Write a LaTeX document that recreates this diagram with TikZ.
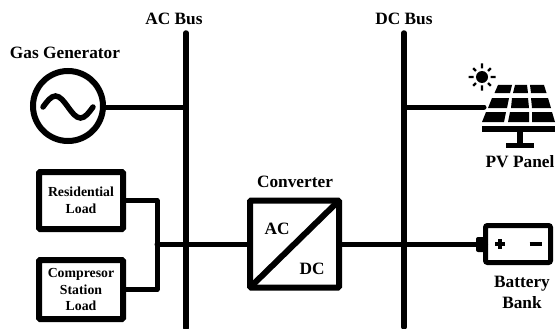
\documentclass[tikz,border=0pt]{standalone}
\usepackage{fontspec}
\setmainfont{Liberation Serif}
\tikzset{
    wire/.style={line width=5pt, line cap=round, line join=round},
    bus/.style={line width=5.5pt, line cap=round},
    loadbox/.style={draw, line width=6pt, rounded corners=1pt, outer sep=0pt, align=center, minimum width=84pt,
        font=\fontsize{13.8}{16.5}\selectfont\bfseries},
    title/.style={align=center, inner sep=0pt, font=\fontsize{17.3}{21}\selectfont\bfseries}
}
\begin{document}
\begin{tikzpicture}[x=1pt, y=-1pt]
    \useasboundingbox (0,0) rectangle (557,329);

    % Bus end points and tap points
    \coordinate (acTop) at (186,33);
    \coordinate (acBot) at (186,328);
    \coordinate (dcTop) at (404,33);
    \coordinate (dcBot) at (404,327);
    \coordinate (acTap) at (186,107);
    \coordinate (pvTap) at (484,107);
    \coordinate (dcTap) at (404,107);
    \coordinate (loadJoin) at (157,244);

    % Generator, loads, converter and battery
    \node[draw, circle, line width=6pt, outer sep=0pt, minimum size=70pt] (gen) at (68,106) {};
    \node[loadbox, minimum height=57pt] (res) at (81,200.5) {Residential\\Load};
    \node[loadbox, minimum height=59pt] (comp) at (81,289.5) {Compresor\\Station\\Load};
    \node[draw, line width=6pt, rounded corners=1pt, outer sep=0pt, minimum width=89pt, minimum height=87pt] (conv) at (294.5,244) {};
    \node[draw, line width=5pt, rounded corners=2pt, outer sep=0pt, minimum width=65pt, minimum height=37pt] (bat) at (518,244) {};

    % Buses
    \draw[bus] (acTop) -- (acBot);
    \draw[bus] (dcTop) -- (dcBot);

    % Connections
    \draw[wire] (gen) ++(35,1) -- (acTap);
    \draw[wire] (dcTap) -- (pvTap);
    \draw[wire] (res.east) -| (loadJoin);
    \draw[wire] (comp.east) -| (loadJoin);
    \draw[wire] (loadJoin) -- (conv.west);
    \draw[wire] (conv.east) -- (bat.west);

    % Sine wave in the generator
    \draw[line width=5.5pt, line cap=round] (43,107) sin (55.5,96) cos (68,107) sin (80.5,118) cos (93,107);

    % Diagonal of the converter
    \draw[line width=6pt] (conv.south west) -- (conv.north east);

    % Battery terminal and signs
    \fill[rounded corners=2pt] (476,237) rectangle (485,252);
    \draw[line width=3.5pt] (495,244) -- (505,244) (500,239) -- (500,249);
    \draw[line width=3.5pt] (529.5,244) -- (542,244);

    % Sun
    \fill (482,77) circle (6pt);
    \draw[line width=2.2pt] (482,77) +(0:8.5) -- +(0:13.5) +(45:8.5) -- +(45:12.5) +(90:8.5) -- +(90:13.5) +(135:8.5) -- +(135:12.5)
        +(180:8.5) -- +(180:13.5) +(225:8.5) -- +(225:12.5) +(270:8.5) -- +(270:13.5) +(315:8.5) -- +(315:12.5);

    % PV cells, top row
    \fill (498,85) -- (512,85) -- (510,93) -- (494.5,93) -- cycle;
    \fill (515,85) -- (527,85) -- (528,93) -- (513,93) -- cycle;
    \fill (530,85) -- (544,85) -- (546.5,93) -- (531,93) -- cycle;
    % middle row
    \fill (492,98) -- (509,98) -- (507,108) -- (488,108) -- cycle;
    \fill (512,98) -- (528,98) -- (529,108) -- (511,108) -- cycle;
    \fill (531,98) -- (548,98) -- (551,108) -- (532,108) -- cycle;
    % bottom row
    \fill (486,112) -- (506,112) -- (504,122) -- (482,122) -- cycle;
    \fill (510,112) -- (529,112) -- (529,122) -- (508,122) -- cycle;
    \fill (532,112) -- (552,112) -- (555,122) -- (532,122) -- cycle;
    % stand
    \fill (482,126) rectangle (555,132);
    \fill (517,132) rectangle (523,143);
    \fill (506,143) rectangle (534,148);

    % Labels
    \node[title] (acLabel) at (174,19) {AC Bus};
    \node[title] (dcLabel) at (404,19) {DC Bus};
    \node[title] (genLabel) at (65,53) {Gas Generator};
    \node[title] (convLabel) at (295,182) {Converter};
    \node[title] (acText) at (277,229) {AC};
    \node[title] (dcText) at (312,269) {DC};
    \node[title] (pvLabel) at (520,162) {PV Panel};
    \node[title] (batLabel) at (522,292.5) {Battery\\Bank};
\end{tikzpicture}
\end{document}
